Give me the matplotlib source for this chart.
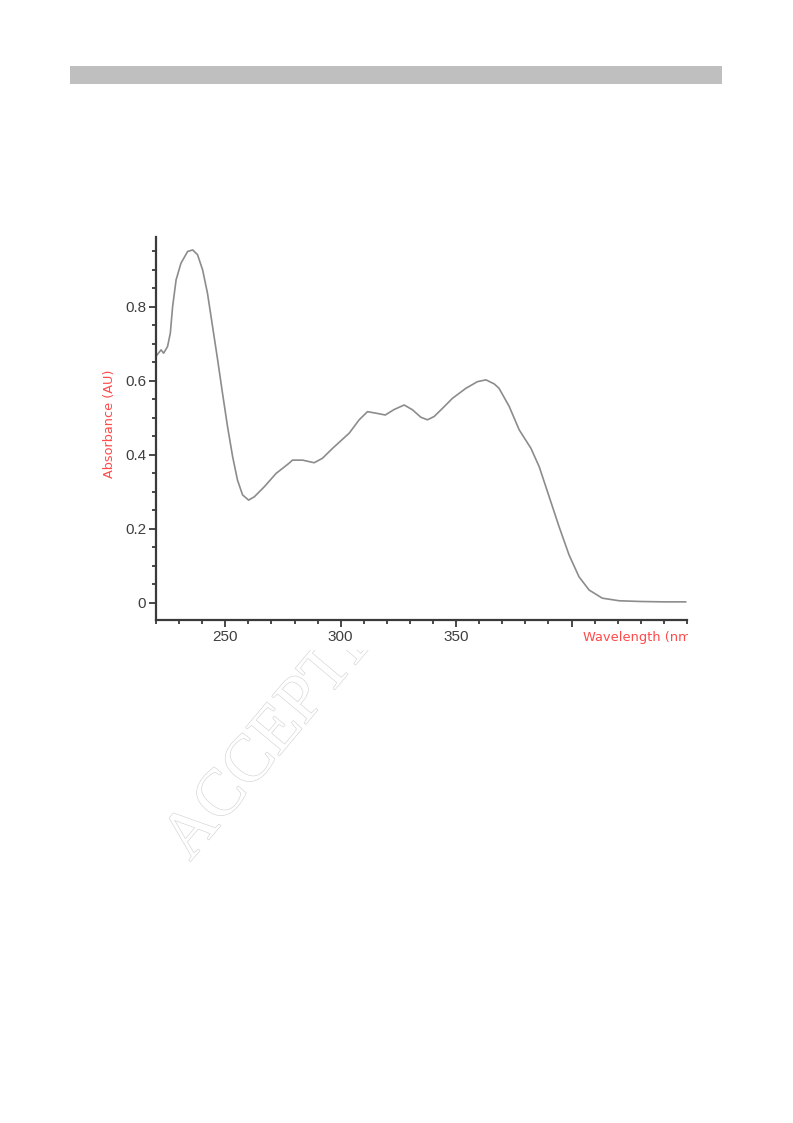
import matplotlib
matplotlib.use("Agg")
import matplotlib.pyplot as plt
import matplotlib.patheffects as pe
from matplotlib.patches import Rectangle
from matplotlib.transforms import Bbox, TransformedBbox
from matplotlib.ticker import MultipleLocator, FixedLocator, FuncFormatter

# spectrum
wavelength = [220.4, 222.2, 223.3, 225.0, 226.2, 227.2, 228.7, 230.8, 233.7, 235.9,
              238.0, 240.2, 242.3, 244.5, 246.7, 248.8, 251.0, 253.2, 255.3, 257.5,
              260.1, 262.6, 266.9, 272.0, 277.7, 279.1, 283.5, 288.5, 292.1, 296.5,
              303.7, 308.0, 311.6, 315.2, 319.3, 323.2, 327.5, 331.1, 334.7, 337.6,
              340.5, 344.1, 348.4, 354.2, 359.2, 362.9, 366.5, 368.6, 373.0, 377.3,
              382.4, 386.0, 390.3, 394.6, 398.9, 403.2, 407.6, 413.3, 420.6, 430.0,
              440.0, 449.4]
absorbance = [0.670, 0.684, 0.675, 0.693, 0.729, 0.801, 0.873, 0.918, 0.950, 0.954,
              0.941, 0.900, 0.837, 0.747, 0.657, 0.567, 0.476, 0.395, 0.332, 0.292,
              0.278, 0.287, 0.314, 0.350, 0.378, 0.386, 0.386, 0.379, 0.391, 0.418,
              0.459, 0.495, 0.517, 0.513, 0.508, 0.523, 0.535, 0.522, 0.502, 0.495,
              0.504, 0.526, 0.553, 0.580, 0.598, 0.603, 0.592, 0.580, 0.531, 0.468,
              0.418, 0.368, 0.287, 0.206, 0.130, 0.071, 0.035, 0.013, 0.006, 0.004,
              0.003, 0.003]

y_ticks = [0, 0.2, 0.4, 0.6, 0.8]
y_labels = ['0', '0.2', '0.4', '0.6', '0.8']
x_ticks = [250, 300, 350, 400]
x_labels = ['250', '300', '350', '']

W, H = 793, 1123
fig = plt.figure(figsize=(W / 100, H / 100), dpi=100)

# header bar
fig.patches.append(Rectangle((70 / W, 1 - 84 / H), 652 / W, 18 / H, transform=fig.transFigure,
                             facecolor='#bfbfbf', edgecolor='none', zorder=1))

# watermark, only the part below the chart picture shows
wm = fig.text(190 / W, 1 - 862 / H, 'ACCEPTED MANUSCRIPT', family='Liberation Serif', fontsize=48,
              color='white', rotation=50, rotation_mode='anchor', ha='left', va='baseline', zorder=-3)
wm.set_path_effects([pe.Stroke(linewidth=0.9, foreground='#d4d4d4'), pe.Normal()])
wm.set_clip_box(TransformedBbox(Bbox([[0, 0], [1, 1 - 650 / H]]), fig.transFigure))
wm.set_clip_on(True)

ax = fig.add_axes([156 / W, 1 - 620 / H, 531 / W, 383 / H])
ax.patch.set_alpha(0)
ax.plot(wavelength, absorbance, color='#8c8c8c', lw=1.2)

ax.set_xlim(220, 450)
ax.set_ylim(-0.046, 0.989)
for s in ['top', 'right']:
    ax.spines[s].set_visible(False)
for s in ['left', 'bottom']:
    ax.spines[s].set_color('#3a3a3a')
    ax.spines[s].set_linewidth(1.6)

ax.yaxis.set_major_locator(FixedLocator(y_ticks))
ax.yaxis.set_major_formatter(FuncFormatter(lambda v, p: y_labels[y_ticks.index(round(v, 1))] if round(v, 1) in y_ticks else ''))
ax.yaxis.set_minor_locator(MultipleLocator(0.05))
ax.xaxis.set_major_locator(FixedLocator(x_ticks))
ax.set_xticklabels(x_labels)
ax.xaxis.set_minor_locator(MultipleLocator(10))
ax.tick_params(which='both', direction='out', color='#3a3a3a', width=1.3, labelcolor='#3f3f3f', labelsize=11)
ax.tick_params(which='major', length=5, pad=2)
ax.tick_params(which='minor', length=3)
for lab in ax.get_xticklabels() + ax.get_yticklabels():
    lab.set_family('Liberation Sans')

fig.text(110 / W, 1 - 424 / H, 'Absorbance (AU)', rotation=90, ha='center', va='center',
         color='#ff4a4a', fontsize=9.3)
xl = fig.text(583 / W, 1 - 637 / H, 'Wavelength (nm)', ha='left', va='center',
              color='#ff4a4a', fontsize=9.4)
xl.set_clip_box(TransformedBbox(Bbox([[0, 0], [688 / W, 1]]), fig.transFigure))
xl.set_clip_on(True)

fig.savefig('out.png', dpi=100)
